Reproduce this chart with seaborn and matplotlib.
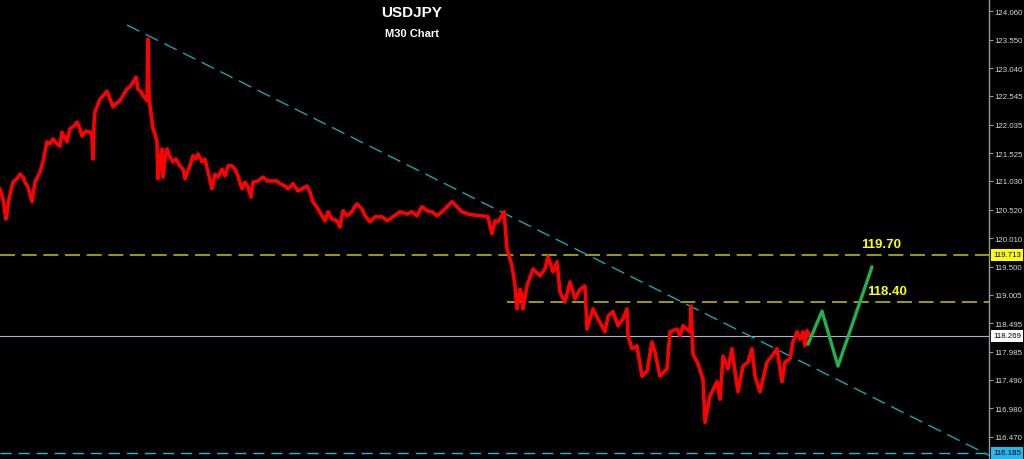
import numpy as np
import pandas as pd
import matplotlib
matplotlib.use("Agg")
import matplotlib.pyplot as plt
import matplotlib.transforms as mtransforms
import seaborn as sns

# ---------------- data ----------------
bar = [0, 3, 6, 9, 13, 17, 20, 23, 25, 28, 32, 35, 40, 43, 47, 50, 53, 57, 60, 62,
       67, 70, 74, 77, 80, 82, 86, 90, 92, 93, 94, 95, 100, 104, 107, 110, 113, 117, 120, 124,
       127, 130, 132, 136, 138, 141, 143, 146, 147, 148, 149, 150, 153, 155, 157, 158, 160, 162, 163, 165,
       167, 170, 173, 176, 180, 183, 185, 188, 190, 193, 196, 198, 202, 205, 208, 212, 215, 218, 222, 225,
       228, 232, 235, 238, 242, 245, 248, 251, 253, 258, 263, 267, 272, 277, 280, 285, 288, 293, 298, 302,
       307, 310, 313, 318, 322, 325, 328, 332, 337, 340, 343, 347, 352, 355, 357, 362, 365, 370, 375, 382,
       387, 393, 400, 407, 412, 417, 422, 427, 432, 437, 442, 447, 452, 457, 462, 468, 475, 482, 488, 492,
       495, 498, 502, 504, 506, 507, 512, 515, 517, 520, 522, 523, 527, 533, 540, 545, 548, 553, 557, 560,
       565, 570, 575, 580, 585, 587, 593, 598, 605, 608, 613, 618, 623, 627, 628, 632, 637, 642, 647, 652,
       655, 660, 667, 670, 677, 680, 683, 690, 691, 693, 698, 703, 705, 710, 717, 720, 723, 728, 732, 735,
       738, 743, 748, 752, 755, 760, 767, 772, 777, 782, 785, 790, 793, 797, 800, 803, 805, 807, 810]
price = [120.89, 120.71, 120.35, 120.71, 121.01, 121.07, 121.15, 121.10, 121.01, 120.92, 120.66, 121.01, 121.19, 121.37, 121.73, 121.69, 121.78, 121.69, 121.65, 121.90,
         121.73, 121.96, 122.01, 122.08, 121.96, 121.83, 121.92, 121.90, 121.83, 121.42, 122.05, 122.26, 122.49, 122.56, 122.63, 122.49, 122.35, 122.42, 122.46, 122.58,
         122.67, 122.71, 122.76, 122.88, 122.67, 122.62, 122.55, 122.49, 122.46, 123.56, 122.58, 122.37, 121.96, 121.87, 121.73, 121.07, 121.42, 121.60, 121.10, 121.42,
         121.60, 121.46, 121.37, 121.42, 121.30, 121.24, 121.07, 121.21, 121.30, 121.48, 121.42, 121.51, 121.37, 121.42, 121.19, 120.89, 121.15, 121.10, 121.24, 121.12,
         121.30, 121.30, 121.24, 121.12, 120.89, 121.01, 120.92, 120.74, 121.01, 121.03, 121.10, 121.03, 121.03, 121.03, 120.98, 120.94, 120.89, 120.98, 120.85, 120.89,
         120.94, 120.83, 120.66, 120.53, 120.41, 120.32, 120.48, 120.35, 120.32, 120.21, 120.50, 120.41, 120.48, 120.58, 120.62, 120.53, 120.41, 120.30, 120.39, 120.39,
         120.32, 120.39, 120.48, 120.44, 120.48, 120.41, 120.57, 120.50, 120.48, 120.41, 120.48, 120.57, 120.66, 120.57, 120.48, 120.44, 120.42, 120.41, 120.39, 120.09,
         120.32, 120.30, 120.41, 120.48, 120.03, 119.82, 119.52, 119.16, 118.75, 119.10, 118.98, 118.75, 119.16, 119.46, 119.34, 119.46, 119.68, 119.41, 119.59, 119.05,
         118.87, 119.23, 118.93, 119.10, 119.16, 118.39, 118.75, 118.57, 118.34, 118.62, 118.70, 118.45, 118.57, 118.75, 118.27, 118.04, 118.09, 117.55, 117.63, 118.16,
         117.98, 117.55, 117.68, 118.34, 118.39, 118.27, 118.45, 118.34, 118.80, 117.95, 117.77, 117.50, 116.73, 117.20, 117.45, 117.14, 117.91, 117.68, 118.04, 117.63,
         117.27, 117.73, 117.80, 118.04, 117.55, 117.27, 117.80, 117.91, 118.04, 117.45, 117.80, 117.86, 118.16, 118.34, 118.21, 118.34, 118.09, 118.36, 118.27]

proj_bar = [808, 822, 838, 872]
proj_price = [118.12, 118.71, 117.73, 119.50]

trend_bar = [127, 980]
trend_price = [123.81, 116.22]

level_top = 119.713
level_mid = 118.87
level_mid_start = 507
level_now = 118.269
level_low = 116.185

target_labels = ["119.70", "118.40"]
target_label_bar = [881, 887]
target_label_price = [119.91, 119.07]

ytick_vals = [124.060, 123.550, 123.040, 122.545, 122.035, 121.525, 121.030, 120.520,
              120.010, 119.500, 119.005, 118.495, 117.985, 117.490, 116.980, 116.470]

title = "USDJPY"
subtitle = "M30 Chart"

# ---------------- style ----------------
sns.set_theme(style="dark", rc={"axes.facecolor": "black", "figure.facecolor": "black"})
plt.rcParams["font.family"] = ["Liberation Sans", "DejaVu Sans"]

fig = plt.figure(figsize=(10.24, 4.60), dpi=100)
ax = fig.add_axes([0, 0, 989 / 1024, 1])
ax.set_facecolor("black")

XMAX = 989
ax.set_xlim(0, XMAX)
ax.set_ylim(116.074, 124.274)

# horizontal levels
ax.axhline(level_top, color="#b4b41e", lw=1.2, ls=(0, (9, 4)), zorder=1)
ax.hlines(level_mid, level_mid_start, XMAX, color="#b4b41e", lw=1.2, ls=(0, (9, 4)), zorder=1)
ax.axhline(level_now, color="#a8b8cc", lw=0.8, zorder=1)
ax.axhline(level_low, color="#2fb4d8", lw=1.0, ls=(0, (8, 5)), zorder=1)

# trend line (extended to right edge)
slope = (trend_price[1] - trend_price[0]) / (trend_bar[1] - trend_bar[0])
tx = [trend_bar[0], XMAX]
ty = [trend_price[0], trend_price[0] + slope * (XMAX - trend_bar[0])]
ax.plot(tx, ty, color="#1fa3b0", lw=1.0, ls=(0, (10, 5)), zorder=2)

# price series
df = pd.DataFrame({"bar": bar, "price": price})
sns.lineplot(data=df, x="bar", y="price", color="#ff0000", lw=2.6, ax=ax,
             estimator=None, sort=False, zorder=3)

# projection
dp = pd.DataFrame({"bar": proj_bar, "price": proj_price})
sns.lineplot(data=dp, x="bar", y="price", color="#22b14c", lw=2.4, ax=ax,
             estimator=None, sort=False, zorder=4)

for t, xb, yp in zip(target_labels, target_label_bar, target_label_price):
    ax.text(xb, yp, t, color="#ffff00", fontsize=9.5, fontweight="bold",
            ha="center", va="center", zorder=5)

# title
ax.text(412 / XMAX, 1 - 13 / 460, title, transform=ax.transAxes, color="white",
        fontsize=11, fontweight="bold", ha="center", va="center")
ax.text(412 / XMAX, 1 - 34 / 460, subtitle, transform=ax.transAxes, color="white",
        fontsize=8, fontweight="bold", ha="center", va="center")

# axes cosmetics
ax.set_xlabel("")
ax.set_ylabel("")
ax.set_xticks([])
ax.grid(False)
for s in ["top", "left", "bottom"]:
    ax.spines[s].set_visible(False)
ax.spines["right"].set_visible(True)
ax.spines["right"].set_color("#9a9a9a")
ax.spines["right"].set_linewidth(1.0)
ax.yaxis.tick_right()
ax.set_yticks(ytick_vals)
ax.set_yticklabels([f"{v:.3f}" for v in ytick_vals])
ax.tick_params(axis="y", which="both", right=True, left=False, colors="#9a9a9a",
               length=3, width=0.8, pad=1.0, labelsize=5.7, labelcolor="#d8d8d8")

# price boxes on axis
trans = mtransforms.blended_transform_factory(ax.transAxes, ax.transData)
boxes = [(level_top, "#ffff00"), (level_now, "#ffffff"), (level_low, "#22b8f0")]
for val, fc in boxes:
    ax.text(1.0 + 4 / 989, val, f"{val:.3f}", transform=trans, color="black",
            fontsize=5.7, ha="left", va="center", zorder=6,
            bbox=dict(boxstyle="square,pad=0.3", fc=fc, ec="none"))

fig.savefig("out.png", dpi=100, facecolor="black")
